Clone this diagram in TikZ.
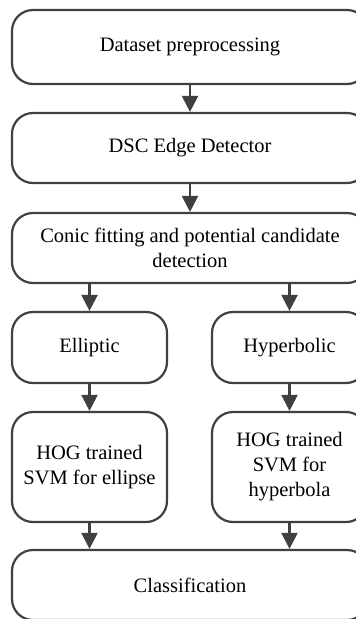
\documentclass[tikz,border=0pt]{standalone}
\usepackage{fontspec}
\setmainfont{Liberation Serif}
\usetikzlibrary{arrows.meta}

\definecolor{linegray}{HTML}{404040}
\tikzset{
  stage/.style={draw=linegray, line width=2.2pt, rounded corners=21pt,
    align=center, inner sep=0pt, font=\fontsize{20.5}{25}\selectfont},
  wide/.style={stage, minimum width=356pt, minimum height=70pt},
  half/.style={stage, minimum width=155pt, minimum height=71pt},
  flow/.style={draw=linegray, line width=2.2pt, -{Triangle[length=16pt,width=16pt]}}
}

\begin{document}
\begin{tikzpicture}[x=1pt,y=-1pt]
  \useasboundingbox (0,0) rectangle (356,619);

  % main chain
  \node[wide, minimum height=74pt] (prep) at (190,47) {Dataset preprocessing};
  \node[wide] (dsc) at (190,148) {DSC Edge Detector};
  \node[wide] (conic) at (190,248) {Conic fitting and potential candidate\\detection};

  % two branches
  \node[half] (ell) at (89.5,347.5) {Elliptic};
  \node[half] (hyp) at (289.5,347.5) {Hyperbolic};
  \node[half, minimum height=110pt] (svmE) at (89.5,467) {HOG trained\\SVM for ellipse};
  \node[half, minimum height=110pt] (svmH) at (289.5,467) {HOG trained\\SVM for\\hyperbola};

  \node[wide] (class) at (190,585) {Classification};

  \foreach \a/\b in {prep/dsc, dsc/conic, ell/svmE, hyp/svmH}
  {
    \draw[flow] (\a) -- (\b);
  }
  \foreach \b in {ell, hyp}
    \draw[flow] (\b.north |- conic.south) -- (\b);
  \foreach \a in {svmE, svmH}
    \draw[flow] (\a) -- (\a.south |- class.north);
\end{tikzpicture}
\end{document}
